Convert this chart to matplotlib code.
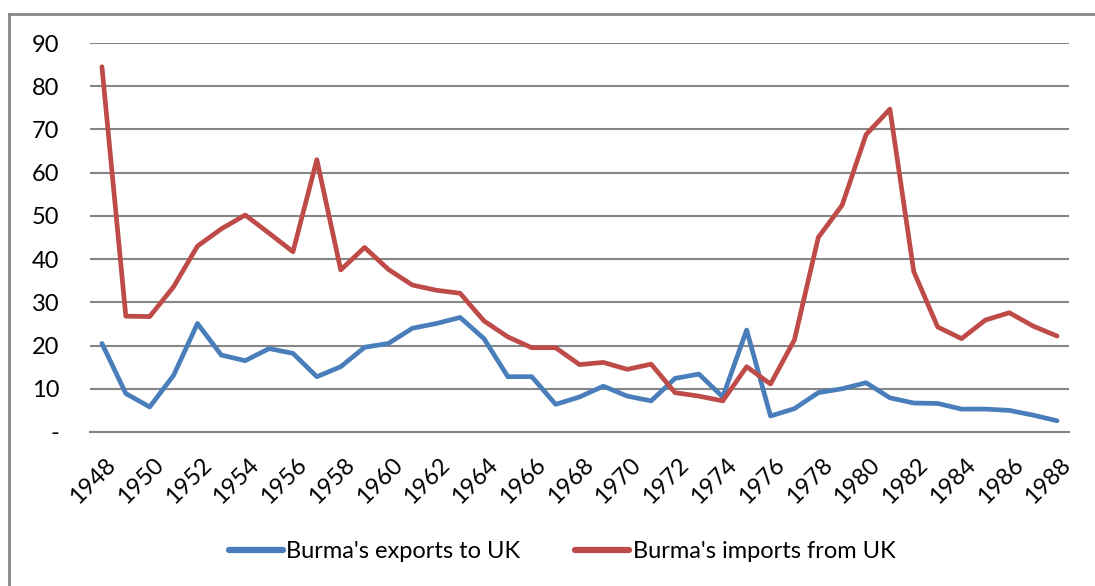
import numpy as np
import matplotlib
matplotlib.use("Agg")
import matplotlib.pyplot as plt
import matplotlib.transforms as mtransforms
from matplotlib.lines import Line2D

years = np.arange(1948, 1989)

exports_to_uk = [20.5, 8.9, 5.8, 13.1, 25.1, 17.8, 16.5, 19.3, 18.2, 12.8,
                 15.1, 19.6, 20.5, 24.0, 25.1, 26.5, 21.6, 12.8, 12.8, 6.4,
                 8.1, 10.6, 8.3, 7.2, 12.4, 13.4, 8.1, 23.6, 3.7, 5.4,
                 9.1, 10.0, 11.4, 7.9, 6.7, 6.6, 5.3, 5.3, 5.0, 3.9, 2.6]

imports_from_uk = [84.5, 26.8, 26.7, 33.6, 43.0, 47.0, 50.2, 46.0, 41.7, 63.0,
                   37.5, 42.7, 37.6, 34.0, 32.8, 32.1, 25.7, 22.0, 19.5, 19.5,
                   15.6, 16.1, 14.5, 15.7, 9.1, 8.3, 7.2, 15.1, 11.1, 21.3,
                   45.0, 52.5, 68.8, 74.7, 37.1, 24.3, 21.6, 25.9, 27.6, 24.5, 22.2]

ytick_vals = [0, 10, 20, 30, 40, 50, 60, 70, 80, 90]
ytick_labels = ["-", "10", "20", "30", "40", "50", "60", "70", "80", "90"]

blue = "#4A7EBB"
red = "#BE4B48"
grid_col = "#868686"

plt.rcParams['font.family'] = ['Lato', 'DejaVu Sans']

fig = plt.figure(figsize=(10.95, 5.86), dpi=100)
ax = fig.add_axes([90 / 1095, 1 - 432 / 586, (1069 - 90) / 1095, (432 - 43) / 586])

ax.plot(years, exports_to_uk, color=blue, lw=3.4, solid_capstyle='round', solid_joinstyle='round', zorder=3)
ax.plot(years, imports_from_uk, color=red, lw=3.4, solid_capstyle='round', solid_joinstyle='round', zorder=3)

ax.set_xlim(1947.5, 1988.5)
ax.set_ylim(0, 90)
ax.set_yticks(ytick_vals)
ax.set_yticklabels(ytick_labels, fontsize=17)
ax.set_xticks(years[::2])
ax.set_xticklabels([str(y) for y in years[::2]], fontsize=17, rotation=45,
                   ha='right', va='top', rotation_mode='anchor')
ax.tick_params(axis='both', length=0)
ax.tick_params(axis='y', pad=22)
ax.tick_params(axis='x', pad=16)

# nudge the rotated year labels a little to the right, like the original
shift = mtransforms.ScaledTranslation(3 / 100, 0, fig.dpi_scale_trans)
for lab in ax.get_xticklabels():
    lab.set_transform(lab.get_transform() + shift)

ax.grid(axis='y', color=grid_col, lw=1.5)
ax.set_axisbelow(True)
for s in ['left', 'right', 'top']:
    ax.spines[s].set_visible(False)
ax.spines['bottom'].set_color(grid_col)
ax.spines['bottom'].set_linewidth(1.5)

handles = [Line2D([], [], color=blue, lw=4.5, solid_capstyle='round'),
           Line2D([], [], color=red, lw=4.5, solid_capstyle='round')]
fig.legend(handles, ["Burma's exports to UK", "Burma's imports from UK"],
           loc='center', bbox_to_anchor=(562 / 1095, 1 - 552 / 586), ncol=2,
           frameon=False, fontsize=17, handlelength=2.3, handletextpad=0.15,
           columnspacing=2.3)

# outer chart frame
fig.add_artist(Line2D([9 / 1095, 9 / 1095], [0, 1 - 14 / 586], color=grid_col, lw=2))
fig.add_artist(Line2D([9 / 1095, 1], [1 - 14 / 586, 1 - 14 / 586], color=grid_col, lw=2))

fig.savefig("out.png", dpi=100)
